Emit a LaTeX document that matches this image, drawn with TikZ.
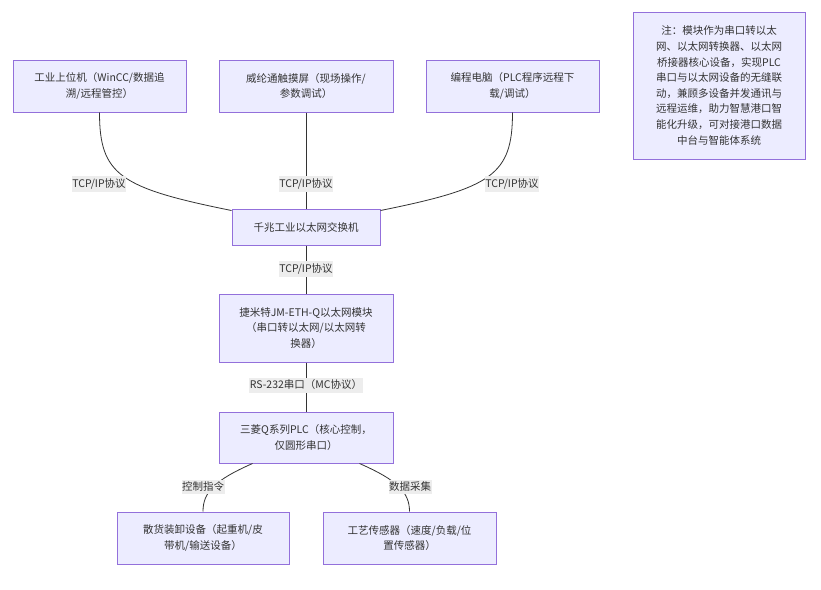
\documentclass[tikz,border=0pt]{standalone}
\usepackage{fontspec}
\setmainfont{Noto Sans CJK SC}
\usetikzlibrary{calc}
\definecolor{BoxClr}{RGB}{236,236,255}
\definecolor{EdgeClr}{RGB}{147,112,219}
\definecolor{LineClr}{RGB}{51,51,51}
\definecolor{TxtClr}{RGB}{51,51,51}
\definecolor{LblClr}{RGB}{237,237,237}

\tikzset{
  box/.style={draw=EdgeClr,fill=BoxClr,line width=1pt,inner sep=0pt,align=center,
    text=TxtClr,font=\fontsize{10.5}{15.6}\selectfont},
  lbl/.style={fill=LblClr,inner xsep=0.5pt,inner ysep=2.5pt,text=TxtClr,
    font=\fontsize{10.5}{12}\selectfont},
  wire/.style={draw=LineClr,line width=0.8pt}
}

\begin{document}
\begin{tikzpicture}[x=1pt,y=-1pt]
\useasboundingbox (0,0) rectangle (821,589);

% top row
\node[box,minimum width=173pt,minimum height=52pt] (host) at (99.5,86) {工业上位机（WinCC/数据追\\溯/远程管控）};
\node[box,minimum width=174pt,minimum height=52pt] (hmi) at (306,86) {威纶通触摸屏（现场操作/\\参数调试）};
\node[box,minimum width=173pt,minimum height=52pt] (pc) at (512.5,86) {编程电脑（PLC程序远程下\\载/调试）};

% note
\node[box,minimum width=172pt,minimum height=147pt] (note) at (719,85.5) {注：模块作为串口转以太\\网、以太网转换器、以太网\\桥接器核心设备，实现PLC\\串口与以太网设备的无缝联\\动，兼顾多设备并发通讯与\\远程运维，助力智慧港口智\\能化升级，可对接港口数据\\中台与智能体系统};

% centre column
\node[box,minimum width=148pt,minimum height=36pt] (sw) at (306,227) {千兆工业以太网交换机};
\node[box,minimum width=174pt,minimum height=68pt] (mod) at (306,328) {捷米特JM-ETH-Q以太网模块\\（串口转以太网/以太网转\\换器）};
\node[box,minimum width=174pt,minimum height=51pt] (plc) at (306,437.5) {三菱Q系列PLC（核心控制，\\仅圆形串口）};

% bottom row
\node[box,minimum width=172pt,minimum height=52pt] (dev) at (203,538) {散货装卸设备（起重机/皮\\带机/输送设备）};
\node[box,minimum width=173pt,minimum height=52pt] (sens) at (409.5,538) {工艺传感器（速度/负载/位\\置传感器）};

% connectors
\draw[wire] (host.south) .. controls (99.5,175) and (120,188) .. ([yshift=-2pt]sw.north west);
\draw[wire] (hmi.south) -- (sw.north);
\draw[wire] (pc.south) .. controls (512.5,175) and (492,188) .. ([yshift=-2pt]sw.north east);
\draw[wire] (sw.south) -- (mod.north);
\draw[wire] (mod.south) -- (plc.north);
\draw[wire] ([xshift=34pt]plc.south west) .. controls (215,480) and (203,492) .. (dev.north);
\draw[wire] ([xshift=-34pt]plc.south east) .. controls (397,480) and (409.5,492) .. (sens.north);

% connector labels
\node[lbl] (l1) at (99,184) {TCP/IP协议};
\node[lbl] (l2) at (306,184) {TCP/IP协议};
\node[lbl] (l3) at (512,184) {TCP/IP协议};
\node[lbl] (l4) at (306,269) {TCP/IP协议};
\node[lbl] (l5) at (306,385) {RS-232串口（MC协议）};
\node[lbl] (l6) at (203,487) {控制指令};
\node[lbl] (l7) at (410,487) {数据采集};

\end{tikzpicture}
\end{document}
